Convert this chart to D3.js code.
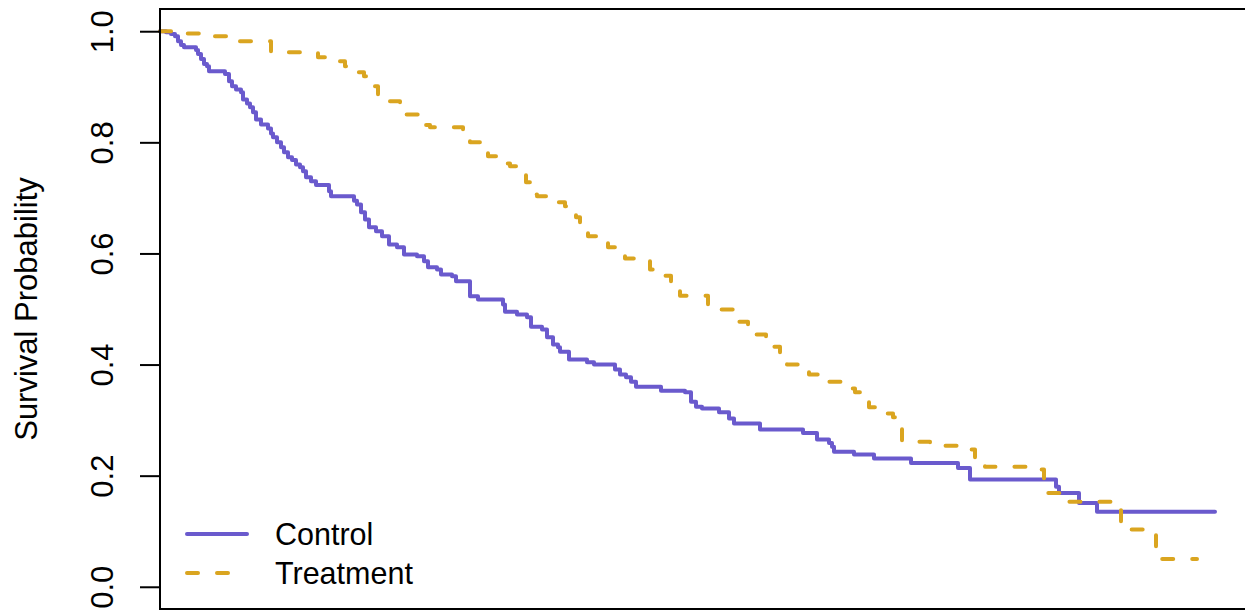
<!DOCTYPE html>
<html>
<head>
<meta charset="utf-8">
<script src="https://cdn.jsdelivr.net/npm/d3@7"></script>
<style>
  body { margin: 0; background: #fff; }
  svg { display: block; font-family: "Liberation Sans", Arial, Helvetica, sans-serif; }
</style>
</head>
<body>
<div id="container"></div>
<script>
// step times (drop points) and survival levels after each drop
var controlTimes = [0.6, 1.1, 1.5, 1.8, 2.1, 2.4, 3.6, 3.8, 4.1, 4.4, 4.7, 4.9, 6.5, 6.9, 7.2, 7.6, 8.1, 8.3, 8.7, 9.0,
  9.3, 9.6, 10.1, 10.8, 11.1, 11.3, 11.7, 12.1, 12.4, 12.8, 13.2, 13.6, 14.0, 14.3, 14.6, 15.1, 15.6, 16.9, 17.1, 19.4,
  19.7, 20.1, 20.5, 20.9, 21.6, 22.2, 22.9, 23.7, 24.4, 25.7, 26.4, 26.8, 27.7, 28.1, 29.2, 29.6, 31.0, 31.8, 34.3, 34.5,
  35.7, 36.7, 37.1, 38.2, 38.7, 39.3, 39.8, 40.0, 40.9, 42.7, 43.4, 45.5, 46.0, 46.6, 47.1, 47.6, 50.1, 52.5, 53.1, 53.6,
  54.2, 55.9, 56.9, 57.4, 60.0, 64.3, 65.7, 66.9, 67.2, 67.4, 69.4, 71.4, 75.1, 79.8, 81.0, 89.6, 89.9, 91.9, 93.7];
var controlSurv = [0.998, 0.995, 0.991, 0.982, 0.975, 0.971, 0.966, 0.959, 0.950, 0.941, 0.937, 0.928, 0.923, 0.910, 0.901, 0.895, 0.890, 0.877, 0.870, 0.863,
  0.854, 0.841, 0.832, 0.825, 0.816, 0.809, 0.800, 0.791, 0.782, 0.773, 0.768, 0.760, 0.755, 0.748, 0.737, 0.730, 0.723, 0.712, 0.703, 0.695,
  0.688, 0.674, 0.661, 0.647, 0.640, 0.631, 0.616, 0.611, 0.598, 0.595, 0.586, 0.575, 0.571, 0.562, 0.559, 0.550, 0.523, 0.517, 0.508, 0.495,
  0.490, 0.485, 0.468, 0.463, 0.449, 0.436, 0.431, 0.423, 0.409, 0.404, 0.400, 0.391, 0.382, 0.377, 0.369, 0.360, 0.353, 0.350, 0.333, 0.324,
  0.321, 0.314, 0.303, 0.294, 0.283, 0.277, 0.265, 0.259, 0.252, 0.243, 0.238, 0.231, 0.223, 0.214, 0.193, 0.180, 0.169, 0.151, 0.135];
var controlEnd = 105.5;

var treatTimes = [1.8, 5.0, 7.7, 11.1, 15.8, 16.8, 18.5, 19.0, 20.4, 20.7, 21.8, 22.4, 24.0, 24.4, 26.1, 27.0, 30.3, 31.0, 32.4, 32.8,
  34.3, 35.0, 36.2, 36.6, 37.3, 37.7, 39.7, 40.5, 41.6, 42.0, 42.8, 43.6, 44.8, 45.5, 46.5, 49.0, 49.6, 51.1, 52.0, 54.8,
  55.6, 57.5, 58.8, 59.5, 60.6, 61.3, 62.0, 62.7, 64.2, 64.9, 65.8, 68.9, 69.5, 70.9, 72.7, 73.3, 74.2, 77.0, 79.7, 81.5,
  82.5, 87.2, 88.4, 90.4, 96.1, 99.6];
var treatSurv = [0.996, 0.991, 0.982, 0.962, 0.953, 0.946, 0.937, 0.926, 0.919, 0.901, 0.883, 0.874, 0.859, 0.850, 0.831, 0.827, 0.807, 0.800, 0.787, 0.775,
  0.762, 0.757, 0.742, 0.728, 0.706, 0.703, 0.692, 0.685, 0.665, 0.656, 0.631, 0.625, 0.611, 0.604, 0.591, 0.571, 0.560, 0.539, 0.524, 0.505,
  0.499, 0.477, 0.459, 0.454, 0.440, 0.432, 0.404, 0.400, 0.387, 0.382, 0.369, 0.357, 0.350, 0.323, 0.312, 0.305, 0.261, 0.254, 0.247, 0.223,
  0.216, 0.211, 0.169, 0.153, 0.103, 0.050];
var treatEnd = 103.7;

var yTicks = [0, 0.2, 0.4, 0.6, 0.8, 1.0];
var groupNames = ["Control", "Treatment"];
var groupColors = ["#6A5ACD", "#DAA520"];

var width = 1245, height = 612;
var box = {left: 160, top: 9, right: 1247, bottom: 609};
var fs = 31;

var svg = d3.select("#container").append("svg")
    .attr("width", width)
    .attr("height", height);

var x = d3.scaleLinear().domain([0, 108.7]).range([box.left, box.right]);
var y = d3.scaleLinear().domain([-0.04, 1.04]).range([box.bottom, box.top]);

//build step series: start at (0,1), drop at each time, hold to end
function steps(times, surv, end) {
    var pts = [{t: 0, s: 1}];
    times.forEach(function(t, i) { pts.push({t: t, s: surv[i]}); });
    pts.push({t: end, s: surv[surv.length - 1]});
    return pts;
}

var line = d3.line()
    .x(function(d) { return x(d.t); })
    .y(function(d) { return y(d.s); })
    .curve(d3.curveStepAfter);

var series = [
    {name: groupNames[0], pts: steps(controlTimes, controlSurv, controlEnd), color: groupColors[0], dash: null},
    {name: groupNames[1], pts: steps(treatTimes, treatSurv, treatEnd), color: groupColors[1], dash: "11 19"}
];

svg.append("g")
    .selectAll("path")
    .data(series)
    .enter().append("path")
    .attr("d", function(d) { return line(d.pts); })
    .attr("fill", "none")
    .attr("stroke", function(d) { return d.color; })
    .attr("stroke-width", 4)
    .attr("stroke-linecap", "round")
    .attr("stroke-linejoin", "round")
    .attr("stroke-dasharray", function(d) { return d.dash; });

//plot box
svg.append("rect")
    .attr("x", box.left)
    .attr("y", box.top)
    .attr("width", box.right - box.left)
    .attr("height", box.bottom - box.top)
    .attr("fill", "none")
    .attr("stroke", "#000")
    .attr("stroke-width", 2);

//y axis, labels parallel to the axis
var yAxis = svg.append("g")
    .attr("transform", "translate(" + box.left + ",0)")
    .call(d3.axisLeft(y).tickValues(yTicks).tickSize(20).tickFormat(d3.format(".1f")));
yAxis.select(".domain").remove();
yAxis.selectAll(".tick line").attr("stroke", "#000").attr("stroke-width", 2);
yAxis.selectAll(".tick text")
    .attr("transform", "rotate(-90)")
    .attr("x", 0)
    .attr("y", -47)
    .attr("dy", 0)
    .attr("text-anchor", "middle")
    .attr("fill", "#000")
    .style("font-size", fs + "px")
    .style("font-family", "Liberation Sans, Arial, sans-serif");

svg.append("text")
    .attr("transform", "translate(37," + ((box.top + box.bottom) / 2) + ") rotate(-90)")
    .attr("text-anchor", "middle")
    .style("font-size", fs + "px")
    .text("Survival Probability");

//legend
var legend = svg.append("g")
    .selectAll("g")
    .data(series)
    .enter().append("g")
    .attr("transform", function(d, i) { return "translate(187," + (534 + i * 39) + ")"; });

legend.append("line")
    .attr("x1", 0).attr("x2", 60)
    .attr("y1", 0).attr("y2", 0)
    .attr("stroke", function(d) { return d.color; })
    .attr("stroke-width", 4)
    .attr("stroke-linecap", "round")
    .attr("stroke-dasharray", function(d) { return d.dash; });

legend.append("text")
    .attr("x", 88)
    .attr("y", 11)
    .style("font-size", "30.5px")
    .text(function(d) { return d.name; });
</script>
</body>
</html>
